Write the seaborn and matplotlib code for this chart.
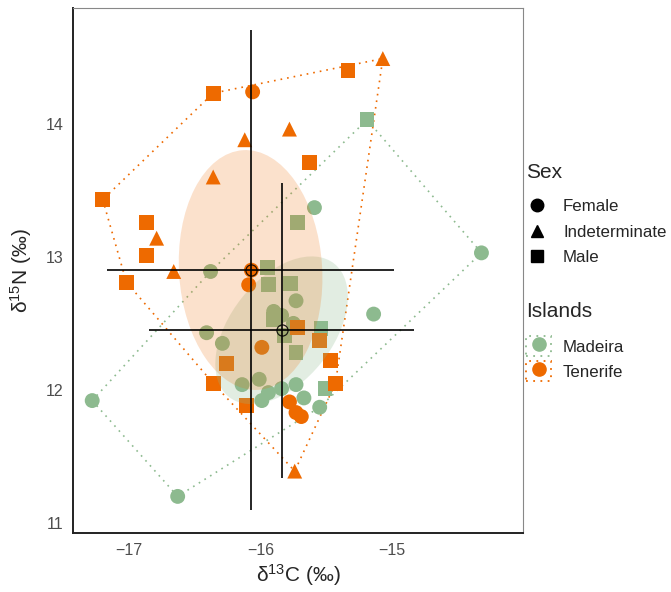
import numpy as np
import pandas as pd
import matplotlib
matplotlib.use("Agg")
import matplotlib.pyplot as plt
import seaborn as sns
from matplotlib.patches import Ellipse, Patch
from matplotlib.lines import Line2D
from matplotlib.legend_handler import HandlerTuple

# ---------------- data ----------------
mad_x = [-16.38, -15.59, -14.32, -17.28, -16.63, -15.73, -15.90, -15.84, -15.75, -15.14,
         -16.41, -16.29, -16.14, -16.01, -15.94, -15.99, -15.84, -15.73, -15.67, -15.55,
         -15.19, -15.72, -15.95, -15.94, -15.77, -15.90, -15.82, -15.54, -15.73, -15.51]
mad_y = [12.89, 13.37, 13.03, 11.92, 11.20, 12.67, 12.59, 12.56, 12.50, 12.57,
         12.43, 12.35, 12.04, 12.08, 11.98, 11.92, 12.01, 12.04, 11.94, 11.87,
         14.03, 13.26, 12.92, 12.79, 12.80, 12.53, 12.41, 12.46, 12.28, 12.01]
mad_sex = ["Female"] * 20 + ["Male"] * 10

ten_x = [-17.20, -16.36, -15.335, -16.87, -16.87, -17.02, -16.36, -16.26, -16.11, -15.63,
         -15.72, -15.55, -15.47, -15.43,
         -15.07, -15.78, -16.12, -16.36, -16.79, -16.66, -15.74,
         -16.06, -16.07, -16.09, -15.99, -15.78, -15.73, -15.69]
ten_y = [13.43, 14.23, 14.40, 13.26, 13.01, 12.81, 12.05, 12.20, 11.88, 13.71,
         12.47, 12.37, 12.22, 12.05,
         14.49, 13.96, 13.88, 13.60, 13.14, 12.89, 11.39,
         14.24, 12.90, 12.79, 12.32, 11.91, 11.83, 11.80]
ten_sex = ["Male"] * 14 + ["Indeterminate"] * 7 + ["Female"] * 7

islands = ["Madeira", "Tenerife"]
sexes = ["Female", "Indeterminate", "Male"]
x_ticks = [-17, -16, -15]
y_ticks = [11, 12, 13, 14]

# ---------------- style ----------------
palette = {"Madeira": "#8DBA8F", "Tenerife": "#EE6A00"}
markers = {"Female": "o", "Indeterminate": "^", "Male": "s"}

sns.set_style("white")
plt.rcParams["font.family"] = ["Liberation Sans", "DejaVu Sans"]
plt.rcParams["mathtext.fontset"] = "custom"
plt.rcParams["mathtext.rm"] = "Liberation Sans"
plt.rcParams["mathtext.it"] = "Liberation Sans:italic"
plt.rcParams["mathtext.bf"] = "Liberation Sans:bold"

df = pd.DataFrame({
    "d13C": mad_x + ten_x,
    "d15N": mad_y + ten_y,
    "Sex": mad_sex + ten_sex,
    "Island": ["Madeira"] * len(mad_x) + ["Tenerife"] * len(ten_x),
})

fig = plt.figure(figsize=(6.71, 5.92), dpi=100)
W, H = 671, 592
ax = fig.add_axes([73 / W, 1 - 533 / H, 450 / W, 525 / H])


def convex_hull(points):
    pts = sorted(set(map(tuple, points)))
    def cross(o, a, b):
        return (a[0] - o[0]) * (b[1] - o[1]) - (a[1] - o[1]) * (b[0] - o[0])
    lower, upper = [], []
    for p in pts:
        while len(lower) >= 2 and cross(lower[-2], lower[-1], p) <= 0:
            lower.pop()
        lower.append(p)
    for p in reversed(pts):
        while len(upper) >= 2 and cross(upper[-2], upper[-1], p) <= 0:
            upper.pop()
        upper.append(p)
    return np.array(lower[:-1] + upper[:-1])


# hulls
for isl in islands:
    sub = df[df.Island == isl]
    h = convex_hull(sub[["d13C", "d15N"]].values)
    h = np.vstack([h, h[:1]])
    ax.plot(h[:, 0], h[:, 1], linestyle=(0, (1, 3)), color=palette[isl], lw=1.2, zorder=1)

# points
sns.scatterplot(data=df, x="d13C", y="d15N", hue="Island", style="Sex",
                hue_order=islands, style_order=sexes, palette=palette,
                markers=markers, s=115, linewidth=0, legend=False, ax=ax, zorder=2)

# standard ellipses
ell_alpha = {"Madeira": 0.25, "Tenerife": 0.2}
for isl in islands:
    sub = df[df.Island == isl]
    cov = np.cov(sub.d13C, sub.d15N)
    vals, vecs = np.linalg.eigh(cov)
    order = vals.argsort()[::-1]
    vals, vecs = vals[order], vecs[:, order]
    ang = np.degrees(np.arctan2(vecs[1, 0], vecs[0, 0]))
    e = Ellipse((sub.d13C.mean(), sub.d15N.mean()), 2 * np.sqrt(vals[0]), 2 * np.sqrt(vals[1]),
                angle=ang, facecolor=palette[isl], edgecolor="none", alpha=ell_alpha[isl], zorder=3)
    ax.add_patch(e)

# means +/- 2 SD
for isl in islands:
    sub = df[df.Island == isl]
    ax.errorbar(sub.d13C.mean(), sub.d15N.mean(), xerr=2 * sub.d13C.std(), yerr=2 * sub.d15N.std(),
                fmt="o", ms=8, mfc="none", mec="black", mew=0.9, ecolor="black",
                elinewidth=1.4, capsize=0, alpha=0.85, zorder=5)

ax.set_xlim(-17.426, -14.004)
ax.set_ylim(10.925, 14.87)
ax.set_xticks(x_ticks)
ax.set_yticks(y_ticks)
ax.set_xticklabels([f"\u2212{abs(v)}" for v in x_ticks])
ax.set_yticklabels([str(v) for v in y_ticks])
ax.tick_params(length=4, width=1, color="#333333", labelsize=11.5, labelcolor="#4D4D4D", pad=3)

for side in ["left", "bottom"]:
    ax.spines[side].set_color("#222222")
    ax.spines[side].set_linewidth(1.4)
for side in ["top", "right"]:
    ax.spines[side].set_color("#888888")
    ax.spines[side].set_linewidth(0.8)

ax.set_xlabel("δ$^{\\mathrm{13}}$C (‰)", fontsize=15, labelpad=3)
ax.set_ylabel("δ$^{\\mathrm{15}}$N (‰)", fontsize=15, labelpad=8)

# legends
LFS = 12.2
fig.text(526 / W, 1 - 172 / H, "Sex", fontsize=15, ha="left", va="center")
fig.text(526 / W, 1 - 312 / H, "Islands", fontsize=15, ha="left", va="center")

sex_handles = [Line2D([], [], marker=markers[s], color="black", ls="", ms=9) for s in sexes]
leg1 = fig.legend(sex_handles, sexes, loc="upper left",
                  bbox_to_anchor=(522.7 / W, 1 - 195.5 / H), frameon=False,
                  fontsize=LFS, borderaxespad=0,
                  handlelength=1.3, handletextpad=0.88, labelspacing=0.63, borderpad=0.2)

isl_handles = [(Patch(facecolor="none", edgecolor=palette[i], linestyle=(0, (1, 3)), lw=1.3),
                Line2D([], [], marker="o", color=palette[i], ls="", ms=9.5)) for i in islands]
leg2 = fig.legend(isl_handles, islands, loc="upper left",
                  bbox_to_anchor=(522.6 / W, 1 - 333 / H), frameon=False,
                  fontsize=LFS, borderaxespad=0,
                  handler_map={tuple: HandlerTuple(ndivide=1)},
                  handlelength=1.48, handleheight=1.42, handletextpad=0.71,
                  labelspacing=0.3, borderpad=0.2)

fig.savefig("out.png", dpi=100)
